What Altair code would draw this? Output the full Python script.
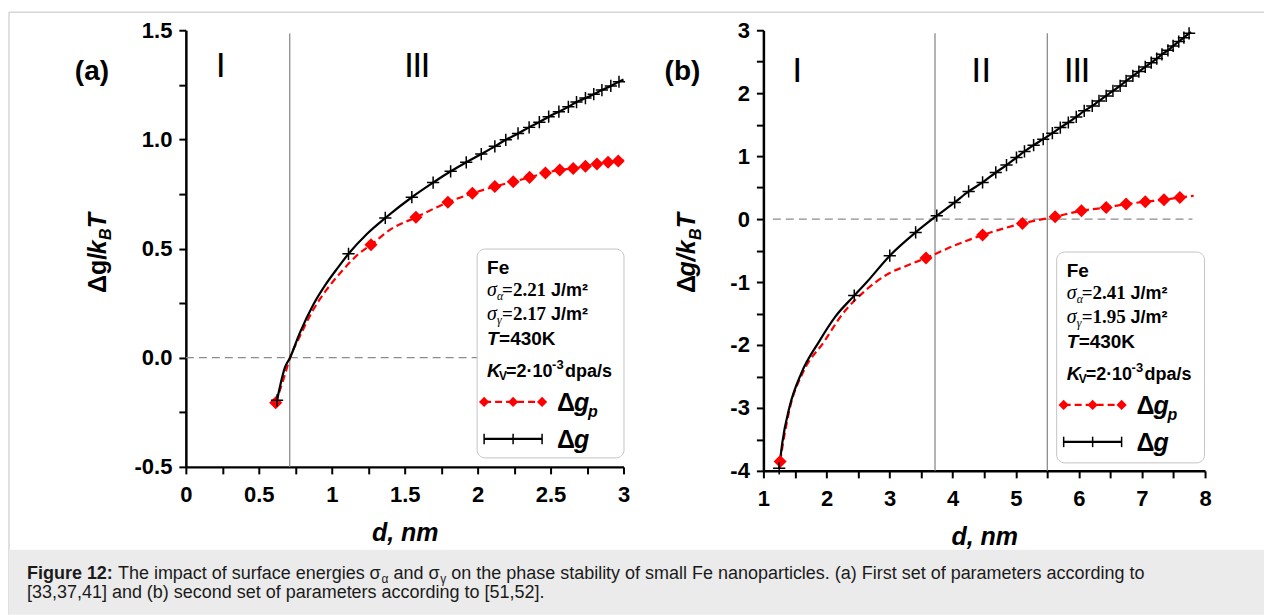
import altair as alt
import pandas as pd

SANS = "Liberation Sans"
SERIF = "Liberation Serif"

# ---------------- data ----------------
# panel (a)
a_curve_d = [0.625, 0.68, 0.714, 0.779, 0.877, 0.961, 1.045, 1.115, 1.241, 1.367, 1.549, 1.695,
             1.815, 1.922, 2.025, 2.118, 2.193, 2.277, 2.353, 2.423, 2.487, 2.557, 2.622, 2.678,
             2.739, 2.796, 2.852, 2.913, 2.969, 3.0]
a_curve_g = [-0.195, -0.043, 0.0, 0.110, 0.247, 0.338, 0.415, 0.476, 0.567, 0.640, 0.735, 0.802,
             0.854, 0.895, 0.933, 0.968, 0.998, 1.027, 1.055, 1.079, 1.104, 1.127, 1.149, 1.171,
             1.189, 1.207, 1.226, 1.245, 1.264, 1.274]
a_plus_d = [0.625, 1.115, 1.367, 1.549, 1.695, 1.815, 1.922, 2.025, 2.118, 2.193, 2.277, 2.353,
            2.423, 2.487, 2.557, 2.622, 2.678, 2.739, 2.796, 2.852, 2.913, 2.969]
a_plus_g = [-0.195, 0.476, 0.640, 0.735, 0.802, 0.854, 0.895, 0.933, 0.968, 0.998, 1.027, 1.055,
            1.079, 1.104, 1.127, 1.149, 1.171, 1.189, 1.207, 1.226, 1.245, 1.264]
a_red_d = [0.616, 0.681, 0.714, 0.779, 0.877, 0.961, 1.073, 1.185, 1.269, 1.409, 1.577, 1.796,
           1.964, 2.118, 2.244, 2.356, 2.465, 2.563, 2.655, 2.739, 2.818, 2.894, 2.964, 3.0]
a_red_g = [-0.206, -0.073, 0.0, 0.095, 0.224, 0.308, 0.399, 0.476, 0.517, 0.590, 0.643, 0.712,
           0.753, 0.784, 0.806, 0.826, 0.846, 0.860, 0.867, 0.877, 0.887, 0.895, 0.901, 0.905]
a_diam_d = [0.616, 1.269, 1.577, 1.796, 1.964, 2.118, 2.244, 2.356, 2.465, 2.563, 2.655, 2.739,
            2.818, 2.894, 2.964]
a_diam_g = [-0.206, 0.517, 0.643, 0.712, 0.753, 0.784, 0.806, 0.826, 0.846, 0.860, 0.867, 0.877,
            0.887, 0.895, 0.901]
a_regions = [0.712]
a_xticks = [0, 0.25, 0.5, 0.75, 1, 1.25, 1.5, 1.75, 2, 2.25, 2.5, 2.75, 3]
a_yticks = [-0.5, -0.25, 0, 0.25, 0.5, 0.75, 1, 1.25, 1.5]

# panel (b)
b_curve_d = [1.25, 1.30, 1.41, 1.6, 1.88, 2.14, 2.44, 2.64, 3.003, 3.413, 3.748, 4.032, 4.253,
             4.474, 4.683, 4.853, 5.011, 5.138, 5.283, 5.435, 5.580, 5.706, 5.833, 5.959, 6.085,
             6.212, 6.319, 6.433, 6.540, 6.654, 6.749, 6.856, 6.951, 7.052, 7.147, 7.235, 7.317,
             7.412, 7.494, 7.583, 7.665, 7.747, 7.78]
b_curve_g = [-3.96, -3.55, -3.0, -2.45, -1.95, -1.55, -1.216, -1.0, -0.582, -0.212, 0.053, 0.264,
             0.439, 0.582, 0.740, 0.857, 0.978, 1.074, 1.174, 1.269, 1.364, 1.454, 1.534, 1.623,
             1.719, 1.798, 1.877, 1.957, 2.036, 2.115, 2.195, 2.274, 2.343, 2.417, 2.485, 2.549,
             2.618, 2.681, 2.750, 2.819, 2.882, 2.951, 2.97]
b_plus_d = [1.25, 2.44, 3.003, 3.413, 3.748, 4.032, 4.253, 4.474, 4.683, 4.853, 5.011, 5.138,
            5.283, 5.435, 5.580, 5.706, 5.833, 5.959, 6.085, 6.212, 6.319, 6.433, 6.540, 6.654,
            6.749, 6.856, 6.951, 7.052, 7.147, 7.235, 7.317, 7.412, 7.494, 7.583, 7.665, 7.747]
b_plus_g = [-3.96, -1.216, -0.582, -0.212, 0.053, 0.264, 0.439, 0.582, 0.740, 0.857, 0.978,
            1.074, 1.174, 1.269, 1.364, 1.454, 1.534, 1.623, 1.719, 1.798, 1.877, 1.957, 2.036,
            2.115, 2.195, 2.274, 2.343, 2.417, 2.485, 2.549, 2.618, 2.681, 2.750, 2.819, 2.882,
            2.951]
b_red_d = [1.265, 1.33, 1.42, 1.62, 1.96, 2.26, 2.6, 2.96, 3.3, 3.577, 4.03, 4.474, 5.106, 5.624,
           6.041, 6.433, 6.749, 7.052, 7.349, 7.601, 7.82]
b_red_g = [-3.85, -3.45, -3.0, -2.45, -1.95, -1.5, -1.15, -0.88, -0.73, -0.619, -0.42, -0.254,
           -0.069, 0.037, 0.132, 0.185, 0.238, 0.275, 0.307, 0.344, 0.37]
b_diam_d = [1.265, 3.577, 4.474, 5.106, 5.624, 6.041, 6.433, 6.749, 7.052, 7.349, 7.601]
b_diam_g = [-3.85, -0.619, -0.254, -0.069, 0.037, 0.132, 0.185, 0.238, 0.275, 0.307, 0.344]
b_regions = [3.72, 5.5]
b_xticks = [1, 1.5, 2, 2.5, 3, 3.5, 4, 4.5, 5, 5.5, 6, 6.5, 7, 7.5, 8]
b_yticks = [-4, -3.5, -3, -2.5, -2, -1.5, -1, -0.5, 0, 0.5, 1, 1.5, 2, 2.5, 3]

# caption pieces: (text, weight, is_subscript, gap_before_px)
caption1 = [("Figure 12:", "bold", False, 0),
            ("The impact of surface energies σ", "normal", False, 5),
            ("α", "normal", True, 1.5),
            ("and σ", "normal", False, 5),
            ("γ", "normal", True, 1.5),
            ("on the phase stability of small Fe nanoparticles. (a) First set of parameters according to",
             "normal", False, 5)]
caption2 = "[33,37,41] and (b) second set of parameters according to [51,52]."

# ---------------- helpers ----------------
ONE = pd.DataFrame({"k": [0]})


def txt(s, x, y, size, weight="bold", style="normal", font=SANS, color="black",
        align="left", baseline="alphabetic", angle=0):
    return alt.Chart(ONE).mark_text(
        text=s, fontSize=size, fontWeight=weight, fontStyle=style, font=font, color=color,
        align=align, baseline=baseline, angle=angle
    ).encode(x=alt.value(x), y=alt.value(y))


def pt(x, y, shape, size, color, filled, sw=1.5):
    return alt.Chart(ONE).mark_point(
        shape=shape, size=size, color=color, filled=filled, strokeWidth=sw, opacity=1
    ).encode(x=alt.value(x), y=alt.value(y))


def hrule(x1, x2, y, color, sw, dash=None):
    kw = dict(color=color, strokeWidth=sw)
    if dash:
        kw["strokeDash"] = dash
    return alt.Chart(ONE).mark_rule(**kw).encode(x=alt.value(x1), x2=alt.value(x2), y=alt.value(y))


def vrule(x, y1, y2, color, sw):
    return alt.Chart(ONE).mark_rule(color=color, strokeWidth=sw).encode(
        x=alt.value(x), y=alt.value(y1), y2=alt.value(y2))


def box(x1, x2, y1, y2, fill, stroke=None, sw=1, radius=0, opacity=1):
    kw = dict(fill=fill, strokeWidth=sw, cornerRadius=radius, opacity=opacity)
    if stroke:
        kw["stroke"] = stroke
    return alt.Chart(ONE).mark_rect(**kw).encode(
        x=alt.value(x1), x2=alt.value(x2), y=alt.value(y1), y2=alt.value(y2))


def numeral(xc, yc, n, gap=8.3):
    out = []
    for i in range(n):
        xi = xc + (i - (n - 1) / 2.0) * gap
        out.append(txt("I", xi, yc, 36, "normal", align="center", baseline="middle"))
    return out


PLUS = "M-1,0H1M0,-1V1"
VBAR = "M0,-1V1"

# Helvetica / Arial advance widths (per 1000 em)
HW = {' ': 278, '(': 333, ')': 333, ',': 278, '-': 333, '.': 278, '/': 278, ':': 278,
      '[': 278, ']': 278, 'A': 667, 'F': 611, 'T': 611, 'a': 556, 'b': 556, 'c': 500, 'd': 556,
      'e': 556, 'f': 278, 'g': 556, 'h': 556, 'i': 222, 'j': 222, 'k': 500, 'l': 222, 'm': 833,
      'n': 556, 'o': 556, 'p': 556, 'q': 556, 'r': 333, 's': 500, 't': 278, 'u': 556, 'v': 500,
      'w': 722, 'x': 500, 'y': 500, 'z': 500, 'σ': 570, 'α': 580, 'γ': 500}
HWB = {'F': 611, 'i': 278, 'g': 611, 'u': 611, 'r': 389, 'e': 556, ' ': 278, ':': 333}


def tw(s, size, bold=False):
    if bold:
        return sum(HWB.get(c, 556) for c in s) * size / 1000.0
    return sum(HW.get(c, 556) for c in s) * size / 1000.0


def legend(bl, bt, bw, bh, sa, sg):
    L = [box(bl, bl + bw, bt, bt + bh, "white", "#c4c4c4", 1, 8)]
    L.append(txt("Fe", bl + 10, bt + 25, 19))
    for row, (sym, val) in enumerate([("α", sa), ("γ", sg)]):
        yb = bt + 47 + 24 * row
        L.append(txt("σ", bl + 10, yb, 20, "normal", "italic", SERIF))
        L.append(txt(sym, bl + 20, yb + 4, 12, "normal", "italic", SERIF))
        L.append(txt("=" + val, bl + 25, yb, 19, "bold", "normal", SERIF))
        L.append(txt("J/m²", bl + 74, yb, 18))
    L.append(txt("T", bl + 10, bt + 96, 19, "bold", "italic"))
    L.append(txt("=430K", bl + 22, bt + 96, 19))
    yk = bt + 128
    L.append(txt("K", bl + 10, yk, 19, "bold", "italic"))
    L.append(txt("V", bl + 22, yk + 3, 12))
    L.append(txt("=2·10", bl + 29, yk, 18))
    L.append(txt("-3", bl + 75, yk - 8, 13))
    L.append(txt("dpa/s", bl + 88, yk, 18))
    # Δg_p sample
    yp = bt + 153
    L.append(hrule(bl + 7, bl + 65, yp, "red", 2.2, [7, 4]))
    for dx in (7, 36, 65):
        L.append(pt(bl + dx, yp, "diamond", 105, "red", True))
    L.append(txt("Δ", bl + 80, yp + 9, 25))
    L.append(txt("g", bl + 97, yp + 9, 25, "bold", "italic"))
    L.append(txt("p", bl + 111, yp + 15, 16, "bold", "italic"))
    # Δg sample
    yg = bt + 190
    L.append(hrule(bl + 7, bl + 65, yg, "black", 2.2))
    for dx in (7, 36, 65):
        L.append(pt(bl + dx, yg, VBAR, 110, "black", False, 1.5))
    L.append(txt("Δ", bl + 80, yg + 9, 25))
    L.append(txt("g", bl + 97, yg + 9, 25, "bold", "italic"))
    return L


def panel(w, h, xdom, ydom, xticks, yticks, xexpr, yexpr, curve, plus, red, diam,
          regions, reg_top, zero_span, extras):
    ax_common = dict(grid=False, domainColor="black", domainWidth=2.5, tickColor="black",
                     tickWidth=2, tickSize=7, labelFont=SANS, labelFontSize=22,
                     labelFontWeight="bold", labelColor="black", labelFlush=False,
                     labelOverlap=False, labelBound=False)
    X = alt.X("d:Q", scale=alt.Scale(domain=xdom, nice=False, zero=False),
              axis=alt.Axis(values=xticks, labelExpr=xexpr, labelPadding=11,
                            titleFont=SANS, titleFontSize=25, titleFontWeight="bold",
                            titleFontStyle="italic", titleColor="black", titlePadding=15,
                            **ax_common),
              title="d, nm")
    Y = alt.Y("g:Q", scale=alt.Scale(domain=ydom, nice=False, zero=False),
              axis=alt.Axis(values=yticks, labelExpr=yexpr, labelPadding=7, **ax_common),
              title=None)
    reg = pd.DataFrame({"d": regions, "g": [ydom[0]] * len(regions), "g2": [reg_top] * len(regions)})
    zero = pd.DataFrame({"d": [zero_span[0]], "d2": [zero_span[1]], "g": [0.0]})
    layers = [
        alt.Chart(reg).mark_rule(color="#8c8c8c", strokeWidth=1.3).encode(x=X, y=Y, y2="g2:Q"),
        alt.Chart(zero).mark_rule(color="#8c8c8c", strokeWidth=1.3, strokeDash=[8, 5]).encode(
            x=X, x2="d2:Q", y=Y),
        alt.Chart(pd.DataFrame({"d": red[0], "g": red[1]})).mark_line(
            color="red", strokeWidth=2.2, strokeDash=[7, 4], interpolate="monotone").encode(x=X, y=Y),
        alt.Chart(pd.DataFrame({"d": curve[0], "g": curve[1]})).mark_line(
            color="black", strokeWidth=2.2, interpolate="monotone").encode(x=X, y=Y),
        alt.Chart(pd.DataFrame({"d": diam[0], "g": diam[1]})).mark_point(
            shape="diamond", filled=True, color="red", size=170, opacity=1).encode(x=X, y=Y),
        alt.Chart(pd.DataFrame({"d": plus[0], "g": plus[1]})).mark_point(
            shape=PLUS, filled=False, color="black", size=150, strokeWidth=1.5, opacity=1
        ).encode(x=X, y=Y),
    ]
    return alt.layer(*(layers + extras)).properties(width=w, height=h)


def ytitle(xb, y0, size, g_italic):
    s = size / 28.0
    out = []
    if g_italic:
        out.append(txt("Δ", xb, y0, size, angle=270))
        out.append(txt("g/k", xb, y0 - 18.5 * s, size, "bold", "italic", angle=270))
    else:
        out.append(txt("Δg/", xb, y0, size, angle=270))
        out.append(txt("k", xb, y0 - 43.5 * s, size, "bold", "italic", angle=270))
    out.append(txt("B", xb + 6 * s, y0 - 59.5 * s, 18 * s, "bold", "italic", angle=270))
    out.append(txt("T", xb, y0 - 72.5 * s, size, "bold", "italic", angle=270))
    return out


# ---------------- panel (a) ----------------
A_W, A_H = 438, 437
a_extra = []
# invisible full-page extent (page origin at -186, -30), frame and caption band
a_extra.append(box(-186, 1079, -30, 585, "white", None, 0, 0, 0))
a_extra += legend(291.5, 219, 147, 209, "2.21", "2.17")
a_extra.append(txt("(a)", -94, 42, 28, align="center", baseline="middle"))
a_extra += numeral(35, 36, 1)
a_extra += numeral(231.5, 36, 3)
a_extra += ytitle(-80, 263, 25, False)
a_extra.append(hrule(-177, 1079, -18, "#d6d6d6", 1.5))
a_extra.append(vrule(-177, -18, 585, "#d6d6d6", 1.5))
a_extra.append(box(-177, 1079, 520, 585, "#ebebeb"))
CS = 18
SUB = 12
CCOL = "#1a1a1a"
cx = 27 - 186
cy1 = 579 - 30
cy2 = 598 - 30
x = cx
for s, wgt, sub, gap in caption1:
    x += gap
    if sub:
        a_extra.append(txt(s, x, cy1 + 4, SUB, wgt, color=CCOL))
        x += tw(s, SUB)
    else:
        a_extra.append(txt(s, x, cy1, CS, wgt, color=CCOL))
        x += tw(s, CS, wgt == "bold")
a_extra.append(txt(caption2, cx, cy2, CS, "normal", color=CCOL))

panel_a = panel(
    A_W, A_H, [0, 3], [-0.5, 1.5], a_xticks, a_yticks,
    "(datum.value*4) % 2 == 0 ? format(datum.value, '~g') : ''",
    "(datum.value*4) % 2 == 0 ? replace(format(datum.value, '.1f'), '\u2212', '-') : ''",
    (a_curve_d, a_curve_g), (a_plus_d, a_plus_g), (a_red_d, a_red_g), (a_diam_d, a_diam_g),
    a_regions, 1.485, (0, 3), a_extra)

# ---------------- panel (b) ----------------
B_W, B_H = 442, 441
b_extra = []
b_extra += legend(293.5, 222, 148, 211, "2.41", "1.95")
b_extra.append(txt("(b)", -81, 42, 28, align="center", baseline="middle"))
b_extra += numeral(34, 41, 1)
b_extra += numeral(218, 41, 2, 10)
b_extra += numeral(314, 41, 3)
b_extra += ytitle(-68, 263, 25, True)

panel_b = panel(
    B_W, B_H, [1, 8], [-4, 3], b_xticks, b_yticks,
    "datum.value % 1 == 0 ? format(datum.value, 'd') : ''",
    "datum.value % 1 == 0 ? replace(format(datum.value, 'd'), '\u2212', '-') : ''",
    (b_curve_d, b_curve_g), (b_plus_d, b_plus_g), (b_red_d, b_red_g), (b_diam_d, b_diam_g),
    b_regions, 2.95, (1.15, 7.8), b_extra)

chart = alt.hconcat(panel_a, panel_b, spacing=140, bounds="flush").properties(
    padding=0, background="white"
).configure_view(stroke=None)

chart.save("out.html", embed_options={"renderer": "svg", "actions": False})
